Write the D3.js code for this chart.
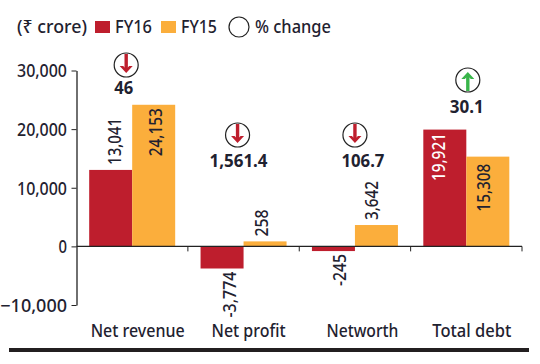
<!DOCTYPE html>
<html><head><meta charset="utf-8">
<script src="https://cdn.jsdelivr.net/npm/d3@7/dist/d3.min.js"></script>
<style>
html,body{margin:0;padding:0;background:#fff}
svg{display:block}
text{font-family:"Noto Sans","DejaVu Sans",sans-serif;fill:#1f2230}
</style></head><body>
<svg id="c" width="540" height="364"></svg>
<script>
// Data
const categories = ["Net revenue","Net profit","Networth","Total debt"];
const fy16Labels = ["13,041","-3,774","-245","19,921"];
const fy15Labels = ["24,153","258","3,642","15,308"];
// bar heights as drawn (the two smallest bars are drawn taller than their labels)
const fy16Drawn = [13041,-3774,-800,19921];
const fy15Drawn = [24153,850,3642,15308];
const changeLabels = ["46","1,561.4","106.7","30.1"];
const changeDirection = ["down","down","down","up"];
const tickValues = [-10000,0,10000,20000,30000];
const seriesNames = ["FY16","FY15"];

// Layout (kept apart from the data)
const RED="#be1e2d", ORANGE="#fbae3c", GREEN="#39b54a", INK="#1f2230";
const widths={"30,000":50,"20,000":50,"10,000":50,"0":8.5,"-10,000":54,
 "Net revenue":94,"Net profit":74,"Networth":72,"Total debt":79,
 "13,041":47,"24,153":48,"258":27,"-3,774":46,"3,642":39,"-245":32,"19,921":48,"15,308":48,
 "46":19,"1,561.4":58,"106.7":43,"30.1":34,
 "(₹ crore)":70,"FY16":37,"FY15":36,"% change":76};
const fit=sel=>sel.each(function(){const t=this.textContent;
  if(widths[t]) d3.select(this).attr("textLength",widths[t]).attr("lengthAdjust","spacingAndGlyphs");});
const svg=d3.select("#c");
const y=d3.scaleLinear().domain([-10000,30000]).range([305,70.5]);
const x=d3.scaleBand().domain(categories).range([76.5,522]);
const barW=43;
const sub=d3.scaleOrdinal().domain(seriesNames).range([-barW,0]);

// Bars
const rows=categories.flatMap((c,i)=>[
 {c,i,s:"FY16",v:fy16Drawn[i],t:fy16Labels[i],col:RED},
 {c,i,s:"FY15",v:fy15Drawn[i],t:fy15Labels[i],col:ORANGE}]);
const cx=c=>x(c)+x.bandwidth()/2;
svg.append("g").selectAll("rect").data(rows).join("rect")
 .attr("x",d=>cx(d.c)+sub(d.s))
 .attr("width",barW)
 .attr("y",d=>y(Math.max(0,d.v)))
 .attr("height",d=>Math.abs(y(d.v)-y(0)))
 .attr("fill",d=>d.col);

// Axes
const yAxis=d3.axisLeft(y).tickValues(tickValues).tickFormat(d3.format(",")).tickSize(5).tickSizeOuter(0);
const gy=svg.append("g").attr("transform","translate(76.5,0)").call(yAxis);
gy.select(".domain").attr("stroke","#222").attr("stroke-width",1.3);
gy.selectAll(".tick line").attr("stroke","#222");
gy.selectAll(".tick text").attr("x",-9.5).attr("dy","0.36em")
 .style("font-family",'"Noto Sans"').style("font-size","18px").style("font-weight",500).style("fill",INK).call(fit);
const gx=svg.append("g").attr("transform",`translate(0,${y(0)})`);
gx.append("line").attr("x1",x.range()[0]).attr("x2",x.range()[1]).attr("stroke","#222").attr("stroke-width",1.2);
gx.selectAll("line.t").data(categories).join("line").attr("class","t")
 .attr("x1",c=>x(c)+x.bandwidth()).attr("x2",c=>x(c)+x.bandwidth()).attr("y1",0).attr("y2",5).attr("stroke","#222");

// Category labels
svg.append("g").selectAll("text").data(categories).join("text")
 .attr("x",(c,i)=>cx(c)+[5.5,5,7.5,5.5][i]).attr("y",337).attr("text-anchor","middle")
 .attr("font-size",18).attr("font-weight",500).text(c=>c).call(fit);

// Value labels
const nudge={"13,041":3.5,"24,153":1.5,"258":-4,"-3,774":7.5,"3,642":-4.5,"-245":6,"19,921":-6,"15,308":-4.5};
const inside=new Set(["24,153","19,921","15,308"]);
const gap=d=>d.t==="15,308"?-7:inside.has(d.t)?-3.5:(d.v<0?3:5);
svg.append("g").selectAll("text").data(rows).join("text")
 .attr("transform",d=>{
   const px=cx(d.c)+sub(d.s)+barW/2+nudge[d.t];
   const py=d.v>=0?y(d.v)-gap(d):y(d.v)+gap(d);
   return `translate(${px},${py}) rotate(-90)`;})
 .attr("text-anchor",d=>{
   if(d.v<0) return "end";
   return inside.has(d.t)?"end":"start";})
 .attr("dy","0.36em")
 .attr("font-size",18).attr("font-weight",500)
 .style("fill",d=>d.t==="19,921"?"#fff":INK)
 .text(d=>d.t).call(fit);

// Change badges
const badgeOffset=[[-6,65,-8.5,94],[-6,135,-5,167],[0,135,8,167],[1.5,80,0.5,113]];
const badges=svg.append("g").selectAll("g").data(categories).join("g")
 .attr("transform",(c,i)=>`translate(${cx(c)+badgeOffset[i][0]},${badgeOffset[i][1]})`);
badges.append("circle").attr("r",12).attr("fill","#fff").attr("stroke","#222").attr("stroke-width",1.2);
badges.each(function(c,i){
  const up=changeDirection[i]==="up", k=up?-1:1, col=up?GREEN:RED;
  const g=d3.select(this);
  g.append("line").attr("x1",0).attr("x2",0).attr("y1",-11*k).attr("y2",5*k).attr("stroke",col).attr("stroke-width",3.4);
  g.append("path").attr("d",`M-6.5,${1*k}L0,${8*k}L6.5,${1*k}L3,${1*k}L0,${4*k}L-3,${1*k}Z`).attr("fill",col);
});
svg.append("g").selectAll("text").data(changeLabels).join("text")
 .attr("x",(t,i)=>cx(categories[i])+badgeOffset[i][2]).attr("y",(t,i)=>badgeOffset[i][3])
 .attr("text-anchor","middle").attr("font-size",18.5).attr("font-weight",700).text(t=>t).call(fit);

// Legend
const lg=svg.append("g");
const legendText=(px,t)=>lg.append("text").attr("x",px).attr("y",33).attr("font-size",18).attr("font-weight",500).text(t).call(fit);
legendText(17,"(₹ crore)");
lg.append("rect").attr("x",95).attr("y",21).attr("width",15).attr("height",12).attr("fill",RED);
legendText(115,seriesNames[0]);
lg.append("rect").attr("x",161).attr("y",21).attr("width",15).attr("height",12).attr("fill",ORANGE);
legendText(181,seriesNames[1]);
lg.append("circle").attr("cx",239).attr("cy",27).attr("r",10).attr("fill","#fff").attr("stroke","#222").attr("stroke-width",1.2);
legendText(255,"% change");

// Bottom rule
svg.append("rect").attr("x",9).attr("y",348).attr("width",520).attr("height",4).attr("fill","#231f20");
</script>
</body></html>
